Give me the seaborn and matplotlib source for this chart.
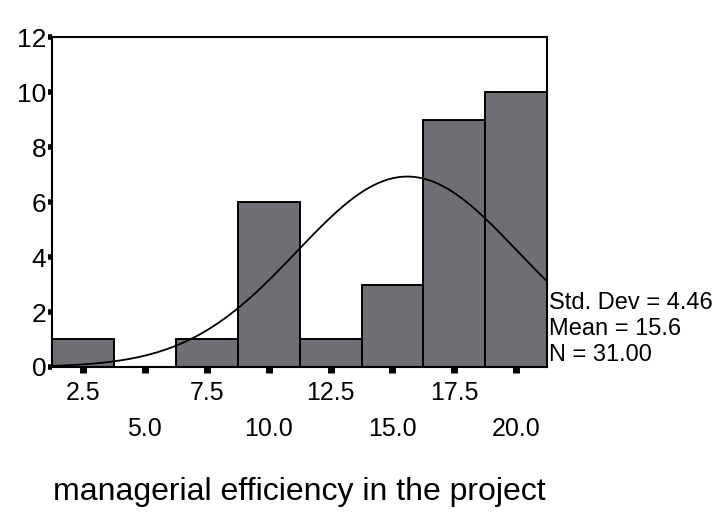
import numpy as np
import pandas as pd
import matplotlib
matplotlib.use("Agg")
import matplotlib.pyplot as plt
import seaborn as sns

# Binned frequencies (bin midpoints, width 2.5)
bin_mids = [2.5, 5.0, 7.5, 10.0, 12.5, 15.0, 17.5, 20.0]
counts = [1, 0, 1, 6, 1, 3, 9, 10]
bin_width = 2.5

# Summary statistics shown beside the plot
std_dev = 4.46
mean_val = 15.6
n_obs = 31

upper_ticks = [2.5, 7.5, 12.5, 17.5]
lower_ticks = [5.0, 10.0, 15.0, 20.0]
y_ticks = [0, 2, 4, 6, 8, 10, 12]

sns.set_style("white")
plt.rcParams["font.family"] = ["Liberation Sans", "DejaVu Sans"]
plt.rcParams["text.color"] = "black"
plt.rcParams["axes.labelcolor"] = "black"
plt.rcParams["xtick.color"] = "black"
plt.rcParams["ytick.color"] = "black"

fig = plt.figure(figsize=(7.22, 5.19), dpi=100)
ax = fig.add_axes([0.072, 0.293, 0.686, 0.635])

df = pd.DataFrame({"value": bin_mids, "count": counts})
lo = bin_mids[0] - bin_width / 2
hi = bin_mids[-1] + bin_width / 2
sns.histplot(data=df, x="value", weights="count", binwidth=bin_width,
             binrange=(lo, hi), ax=ax,
             color="#6e6e75", alpha=1.0, edgecolor="black", linewidth=1.4)

# Fitted normal curve scaled to counts per bin
xs = np.linspace(lo, hi, 200)
ys = n_obs * bin_width / (std_dev * np.sqrt(2 * np.pi)) * np.exp(-0.5 * ((xs - mean_val) / std_dev) ** 2)
sns.lineplot(x=xs, y=ys, ax=ax, color="black", linewidth=1.3)

ax.set_xlim(lo, hi)
ax.set_ylim(0, 12)

ax.set_xticks(upper_ticks)
ax.set_xticklabels([f"{t:.1f}" for t in upper_ticks])
ax.set_xticks(lower_ticks, minor=True)
ax.set_xticklabels([f"{t:.1f}" for t in lower_ticks], minor=True)
ax.set_yticks(y_ticks)
ax.set_yticklabels([str(t) for t in y_ticks])

ax.tick_params(axis="x", which="major", direction="out", length=4, width=5,
               pad=6, labelsize=18, bottom=True, colors="black")
ax.tick_params(axis="x", which="minor", direction="out", length=4, width=5,
               pad=32, labelsize=18, bottom=True, colors="black")
ax.tick_params(axis="y", direction="out", length=3, width=4, pad=1,
               labelsize=19, left=True, colors="black")

for s in ax.spines.values():
    s.set_visible(True)
    s.set_color("black")
    s.set_linewidth(1.5)

ax.set_xlabel("managerial efficiency in the project", fontsize=23, labelpad=26,
              color="black")
ax.set_ylabel("")

stats_txt = f"Std. Dev = {std_dev:.2f}\nMean = {mean_val:.1f}\nN = {n_obs:.2f}"
ax.text(1.004, 0.115, stats_txt, transform=ax.transAxes, fontsize=17,
        va="center", ha="left", linespacing=1.22, color="black")

fig.savefig("out.png", dpi=100, facecolor="white")
